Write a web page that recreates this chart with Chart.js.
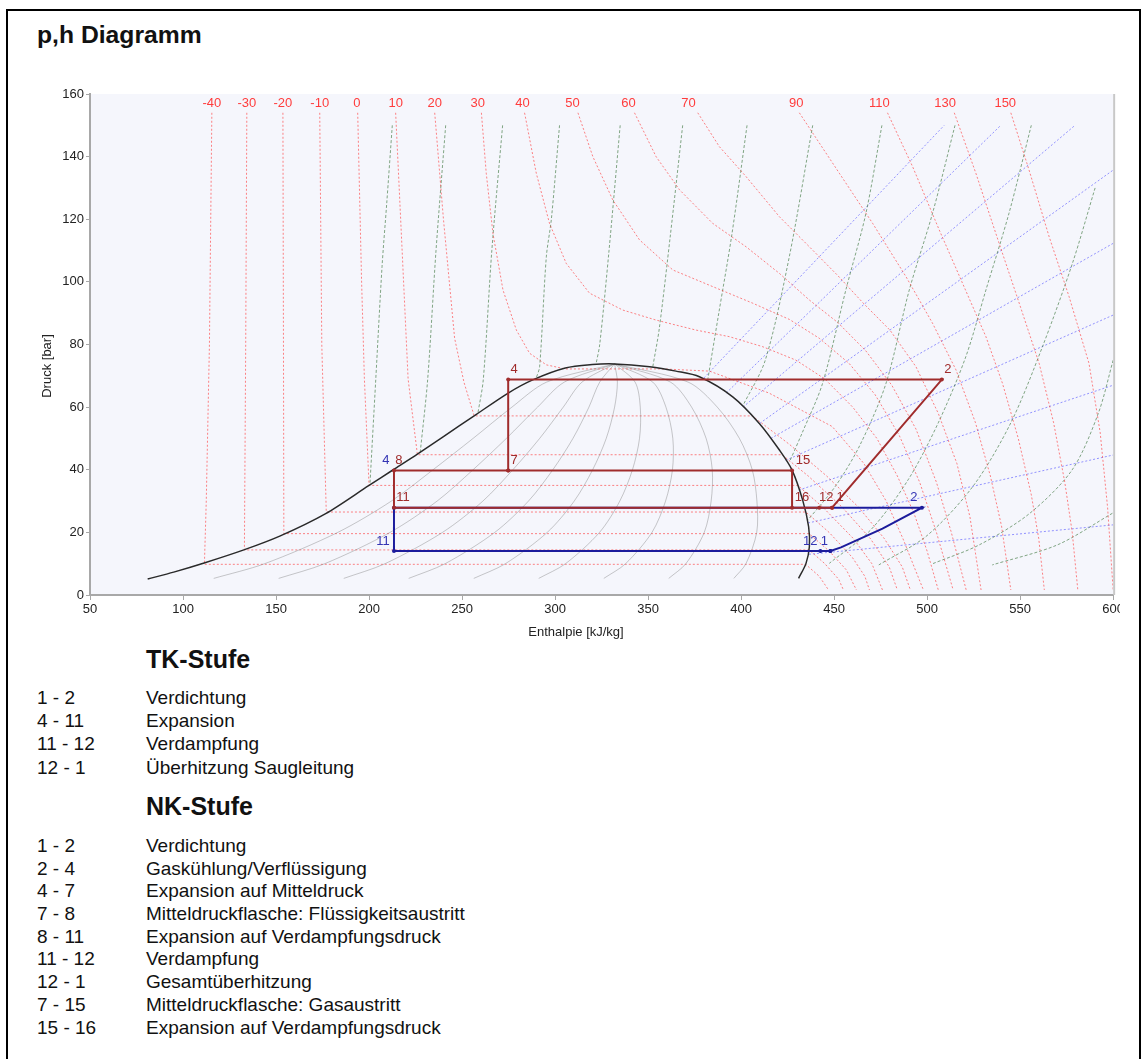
<!DOCTYPE html>
<html>
<head>
<meta charset="utf-8">
<title>p,h Diagramm</title>
<script src="https://cdn.jsdelivr.net/npm/chart.js@4.4.1/dist/chart.umd.min.js"></script>
<style>
  body { margin: 0; background: #fff; font-family: "Liberation Sans", Arial, sans-serif; color: #111; }
  #frame { position: absolute; left: 6px; top: 9px; width: 1135px; height: 1060px; border: 2px solid #000; border-bottom: none; box-sizing: border-box; }
  #title { position: absolute; left: 37px; top: 21px; font-size: 24.7px; line-height: 28px; font-weight: bold; }
  #chartBox { position: absolute; left: 30px; top: 84px; width: 1090px; height: 556px; overflow: hidden; }
  .head { position: absolute; left: 146px; font-size: 25px; line-height: 30px; font-weight: bold; }
  .rows { position: absolute; left: 37px; font-size: 19px; }
  .rows div { position: relative; white-space: nowrap; }
  .rows span.txt { position: absolute; left: 109px; }
</style>
</head>
<body>
<div id="frame"></div>
<div id="title">p,h Diagramm</div>
<div id="chartBox"><canvas id="ph" width="1096" height="556" style="width:1096px;height:556px"></canvas></div>

<div class="head" style="top:644px">TK-Stufe</div>
<div class="rows" id="tkRows" style="top:686px;line-height:23.2px"></div>
<div class="head" style="top:791px">NK-Stufe</div>
<div class="rows" id="nkRows" style="top:835px;line-height:22.7px"></div>

<script>
// ---- axis ranges ----
const hMin = 50, hMax = 600, hStep = 50;
const pMin = 0, pMax = 160, pStep = 20;

// ---- saturation dome (h kJ/kg, p bar) ----
const domeH = [81, 95, 111.8, 132.7, 152, 176.7, 200, 213, 226, 240, 256.5, 274.8, 288, 305.5, 320, 332, 350.8, 365, 377.6, 395.5, 409.8, 420.6, 427.4, 433.1, 436.3, 436.7, 434.9, 430.9];
const domeP = [5.1, 7.3, 10.3, 14.4, 18.8, 26, 35, 40, 45, 50.6, 57.2, 64.5, 68.7, 72.5, 73.6, 73.8, 72.9, 71.5, 69.7, 63.3, 54.8, 46.3, 39.9, 30.3, 21.8, 15.4, 10.1, 5.3];

// ---- vapour quality lines x = 0.1 ... 0.9 ----
const qualityP = [5.3, 10, 20, 30, 40, 50, 60, 68, 73.8];
const qualityH = [
  [116.5, 143.9, 183.2, 212, 234.4, 255.9, 276.8, 295.5, 332],
  [151.4, 176.2, 211.3, 236.6, 255.9, 273.8, 290.6, 305, 332],
  [186.4, 208.6, 239.5, 261.2, 277.3, 291.7, 304.4, 314.5, 332],
  [221.3, 240.9, 267.6, 285.7, 298.8, 309.6, 318.2, 324, 332],
  [256.3, 273.3, 295.8, 310.3, 320.2, 327.5, 332, 333.5, 332],
  [291.2, 305.6, 323.9, 334.8, 341.6, 345.4, 345.8, 343, 332],
  [326.2, 337.9, 352.1, 359.4, 363.1, 363.3, 359.6, 352.5, 332],
  [361.1, 370.3, 380.2, 383.9, 384.5, 381.2, 373.4, 362, 332],
  [396.1, 402.6, 408.4, 408.5, 406, 399.1, 387.2, 371.5, 332]
];

// ---- isotherms (°C) ----
const isoTemps = ['-40', '-30', '-20', '-10', '0', '10', '20', '30', '40', '50', '60', '70', '90', '110', '130', '150'];
const isoLabelH = [115.5, 134.3, 153.7, 173.5, 193.4, 214.3, 235.3, 258.4, 282.5, 309.4, 339.5, 371.7, 429.7, 474.3, 509.7, 542];
const isoLabelP = 157.1;
const isothermH = [
  [115.5, 114.2, 112.5, 111.5, 434.7, 442, 447],
  [134.3, 133.7, 133, 436.6, 445, 452.5, 455],
  [153.7, 154, 154.2, 436.5, 447.4, 456.6, 462],
  [173.5, 174.6, 177, 434.8, 447.3, 459.8, 466.5, 469],
  [193.9, 196, 197.5, 200, 430.5, 444, 460.4, 470.3, 476],
  [214.3, 217, 221, 226, 422, 436.1, 454.4, 469.5, 479.6, 484],
  [235.3, 240, 246, 251, 256.5, 406, 426.2, 446, 463.2, 477, 486.6, 491],
  [260.4, 263, 266.6, 272, 279.2, 286.3, 295.3, 305.5, 358, 383, 415, 449, 466, 478, 487, 493, 498],
  [283.6, 289.9, 297, 306, 318.5, 336.4, 354.3, 375.8, 393.7, 411.6, 429.5, 445, 460, 473, 484, 493, 500, 506],
  [312.3, 320.3, 331, 345.4, 363.3, 384.7, 406.2, 426, 442, 458, 472, 485, 496, 505, 514],
  [342.7, 354.3, 366.9, 384.7, 402.7, 420.6, 436.7, 452, 467, 481, 494, 505, 513, 521],
  [376.7, 388.3, 402.7, 420.6, 436.7, 452, 466, 480, 494, 506, 516, 523, 529],
  [431.3, 452.8, 470.7, 488.6, 502.9, 515.5, 526, 534, 540, 545],
  [478.7, 492.2, 506.5, 519, 531.6, 540.5, 549, 556, 560, 563],
  [514.6, 526.2, 538.7, 549.5, 560.2, 568, 574, 578, 581],
  [545, 554.8, 565.6, 576.3, 587, 593, 597, 600]
];
const isothermP = [
  [154, 80, 30, 9.8, 9.8, 6, 1.6],
  [154, 80, 14.4, 14.4, 10, 5, 1.6],
  [154, 80, 19.6, 19.6, 14, 8, 1.6],
  [154, 80, 26.5, 26.5, 20, 12, 6, 1.6],
  [154, 100, 69, 35, 35, 28, 18, 10, 1.6],
  [154, 120, 69, 44.8, 44.8, 38, 28, 18, 9, 1.6],
  [154, 120, 82, 68, 57.2, 57.2, 48, 38, 28, 18, 9, 1.6],
  [154, 134.7, 115.5, 97.4, 84.6, 77.2, 73.5, 72.2, 72.2, 71.5, 64.5, 53.8, 42, 30, 18, 9, 1.6],
  [154, 134.7, 118.7, 105.9, 96.4, 91, 87.8, 84.6, 82.5, 79.3, 75, 69, 60, 50, 38, 26, 14, 1.6],
  [154, 140, 126.2, 113.4, 103.8, 98.5, 93.2, 88, 82, 74, 64, 51, 36, 20, 1.6],
  [154, 140, 129.4, 118.7, 111.2, 102.7, 94.2, 87, 78, 67, 53, 36, 20, 1.6],
  [154, 143.2, 133.6, 120.8, 111.2, 102, 93, 84.6, 72.9, 58, 42, 25, 1.6],
  [154, 134.7, 118.7, 101.7, 86.8, 71.9, 55, 38, 22, 1.6],
  [154, 136.8, 116.6, 99.6, 82.5, 67.6, 50, 32, 18, 1.6],
  [154, 134.7, 112.3, 93.2, 74, 55, 36, 20, 1.6],
  [154, 135.7, 114.4, 95.3, 74, 52, 28, 1.6]
];

// ---- isentropes ----
const isentropeH = [
  [212.5, 209.5, 207, 203.6, 200.5],
  [241.2, 236, 231.5, 227.5],
  [271.8, 266, 261.4, 258.5],
  [302.4, 298, 295.3, 291.7, 290],
  [335, 329, 324, 322],
  [368.6, 362, 356, 352.5],
  [403.2, 395, 388, 382],
  [438.5, 425.9, 413, 401],
  [475.7, 467.1, 456.3, 443.8, 433, 426],
  [515, 502.9, 490.4, 477.9, 464, 451, 436],
  [556, 544, 531.6, 520.8, 506, 490, 470, 447.4],
  [590.3, 578.1, 562, 545, 525, 500, 474],
  [600, 592, 578, 555, 528, 503],
  [599.6, 570, 535]
];
const isentropeP = [
  [150, 125, 105, 68.7, 35.5],
  [150, 110, 68.7, 45.5],
  [150, 110, 68.7, 58],
  [150, 120, 108, 72.9, 69.5],
  [150, 110, 80, 73.7],
  [150, 115, 85, 72.8],
  [150, 115, 90, 68.5],
  [150, 108, 75, 60.5],
  [150, 121.9, 97.4, 67.6, 52, 42.5],
  [150, 121.9, 97.4, 67.6, 48, 35, 24],
  [150, 121.9, 97.4, 76.1, 55, 37, 21, 10.1],
  [130, 105.9, 79.3, 55, 35, 19, 9.6],
  [75, 58, 40, 26, 16, 10],
  [26.1, 16, 9.6]
];

// ---- isochores ----
const isochoreH = [[380, 509.2], [392, 539.6], [401, 579.5], [410, 600], [416, 600], [424, 600], [431, 600], [436, 600], [436.5, 600]];
const isochoreP = [[69.3, 150], [64.5, 150], [60, 150], [54.8, 135.7], [50, 112.3], [43, 89.4], [33.5, 67], [23, 44.7], [13, 22.4]];

// ---- NK-Stufe cycle: 1-2-4-7-8-11-12-1 and 7-15-16 ----
const nkH = [448.9, 507.9, 274.8, 274.8, 213.4, 213.4, 442, 448.9];
const nkP = [27.9, 68.8, 68.8, 39.8, 39.8, 27.9, 27.9, 27.9];
const nkGasH = [274.8, 427.4, 427.4];
const nkGasP = [39.8, 39.8, 27.9];

// ---- TK-Stufe cycle: 1-2-4-11-12-1 ----
const tkH = [448, 453.7, 476, 497.2, 213.4, 213.4, 442.6, 448];
const tkP = [14.05, 15.2, 21.2, 27.9, 27.9, 14.05, 14.05, 14.05];
const tkMarker = [2, 0, 0, 2, 2, 2, 2, 2];

// ---- state point labels ----
const ptText = ['4', '2', '7', '8', '4', '15', '11', '16', '12', '1', '2', '11', '12', '1'];
const ptH = [274.8, 507.9, 274.8, 213.4, 213.4, 427.4, 213.4, 427.4, 442, 448.9, 497.2, 213.4, 442.6, 448];
const ptP = [68.8, 68.8, 39.8, 39.8, 39.8, 39.8, 27.9, 27.9, 27.9, 27.9, 27.9, 14.05, 14.05, 14.05];
const ptStage = ['nk', 'nk', 'nk', 'nk', 'tk', 'nk', 'nk', 'nk', 'nk', 'nk', 'tk', 'tk', 'tk', 'tk'];
const ptDx = [6, 6, 6, 5, -8, 11, 9, 10, 7, 8, -8, -11, -10, -6];

// ---- legend text ----
const tkSteps = ['1 - 2', '4 - 11', '11 - 12', '12 - 1'];
const tkNames = ['Verdichtung', 'Expansion', 'Verdampfung', 'Überhitzung Saugleitung'];
const nkSteps = ['1 - 2', '2 - 4', '4 - 7', '7 - 8', '8 - 11', '11 - 12', '12 - 1', '7 - 15', '15 - 16'];
const nkNames = ['Verdichtung', 'Gaskühlung/Verflüssigung', 'Expansion auf Mitteldruck', 'Mitteldruckflasche: Flüssigkeitsaustritt',
  'Expansion auf Verdampfungsdruck', 'Verdampfung', 'Gesamtüberhitzung', 'Mitteldruckflasche: Gasaustritt', 'Expansion auf Verdampfungsdruck'];

const FONT = '"Liberation Sans", Arial, sans-serif';
const NK_COLOR = '#a02c2c';
const TK_COLOR = '#1c1c9c';

function fillRows(id, steps, names) {
  const box = document.getElementById(id);
  steps.forEach((s, i) => {
    const row = document.createElement('div');
    row.innerHTML = '<span></span><span class="txt"></span>';
    row.children[0].textContent = s;
    row.children[1].textContent = names[i];
    row.style.height = box.style.lineHeight;
    box.appendChild(row);
  });
}
fillRows('tkRows', tkSteps, tkNames);
fillRows('nkRows', nkSteps, nkNames);

// build a line dataset from two arrays
function curve(hs, ps, style) {
  return Object.assign({
    data: hs.map((h, i) => ({ x: h, y: ps[i] })),
    showLine: true,
    fill: false,
    pointRadius: 0,
    pointHoverRadius: 0,
    borderWidth: 1,
    tension: 0
  }, style);
}

const datasets = [];
datasets.push(curve(nkH, nkP, { borderColor: NK_COLOR, borderWidth: 2, pointRadius: 2, pointBackgroundColor: NK_COLOR, pointBorderWidth: 0, order: 0 }));
datasets.push(curve(nkGasH, nkGasP, { borderColor: NK_COLOR, borderWidth: 2, pointRadius: 2, pointBackgroundColor: NK_COLOR, pointBorderWidth: 0, order: 0 }));
datasets.push(curve(tkH, tkP, { borderColor: TK_COLOR, borderWidth: 2, pointRadius: tkMarker, pointBackgroundColor: TK_COLOR, pointBorderWidth: 0, order: 1 }));
datasets.push(curve(domeH, domeP, { borderColor: '#2a2a2a', borderWidth: 1.5, tension: 0.3, order: 2 }));
qualityH.forEach(hs => datasets.push(curve(hs, qualityP, { borderColor: 'rgba(120,120,120,0.5)', borderWidth: 0.8, tension: 0.3, order: 3 })));
isothermH.forEach((hs, i) => datasets.push(curve(hs, isothermP[i], { borderColor: 'rgba(255,50,50,0.6)', borderDash: [2, 2], order: 4 })));
isentropeH.forEach((hs, i) => datasets.push(curve(hs, isentropeP[i], { borderColor: 'rgba(50,110,50,0.6)', borderDash: [3, 2], tension: 0.3, order: 5 })));
isochoreH.forEach((hs, i) => datasets.push(curve(hs, isochoreP[i], { borderColor: 'rgba(80,80,255,0.6)', borderDash: [2, 2], order: 6 })));

const overlay = {
  id: 'overlay',
  beforeDraw(chart) {
    const { ctx, chartArea: a } = chart;
    ctx.save();
    ctx.fillStyle = '#f5f6fc';
    ctx.fillRect(a.left, a.top, a.right - a.left, a.bottom - a.top);
    ctx.restore();
  },
  afterDraw(chart) {
    const { ctx, chartArea: a } = chart;
    const xs = chart.scales.x, ys = chart.scales.y;
    ctx.save();
    // right frame of plot area
    ctx.strokeStyle = '#c8c8c8';
    ctx.lineWidth = 2;
    ctx.beginPath();
    ctx.moveTo(a.right + 1, a.top);
    ctx.lineTo(a.right + 1, a.bottom);
    ctx.stroke();

    ctx.font = '13px ' + FONT;
    ctx.textAlign = 'center';
    ctx.textBaseline = 'middle';

    // isotherm labels
    ctx.fillStyle = '#ff3c3c';
    isoTemps.forEach((t, i) => ctx.fillText(t, xs.getPixelForValue(isoLabelH[i]), ys.getPixelForValue(isoLabelP)));

    // state point labels
    ptText.forEach((t, i) => {
      ctx.fillStyle = ptStage[i] === 'nk' ? NK_COLOR : '#3434b4';
      ctx.fillText(t, xs.getPixelForValue(ptH[i]) + ptDx[i], ys.getPixelForValue(ptP[i]) - 10);
    });

    // axis titles, centred on the canvas
    ctx.fillStyle = '#222';
    ctx.fillText('Enthalpie [kJ/kg]', chart.width / 2 - 2, chart.height - 8);
    ctx.translate(17, chart.height / 2 + 4);
    ctx.rotate(-Math.PI / 2);
    ctx.fillText('Druck [bar]', 0, 0);
    ctx.restore();
  }
};

const axisColor = '#a8a8a8';
new Chart(document.getElementById('ph').getContext('2d'), {
  type: 'scatter',
  data: { datasets },
  options: {
    responsive: false,
    animation: false,
    events: [],
    layout: { padding: { left: 0, right: 12, top: 10, bottom: 0 } },
    plugins: { legend: { display: false }, tooltip: { enabled: false } },
    scales: {
      x: {
        type: 'linear', min: hMin, max: hMax,
        ticks: { stepSize: hStep, color: '#222', font: { size: 13, family: FONT }, padding: 2, maxRotation: 0, autoSkip: false },
        grid: { drawOnChartArea: false, drawTicks: true, tickLength: 5, color: axisColor },
        border: { display: true, color: axisColor, width: 2 },
        afterFit: s => { s.height = 45; }
      },
      y: {
        type: 'linear', min: pMin, max: pMax,
        ticks: { stepSize: pStep, color: '#222', font: { size: 13, family: FONT }, padding: 2 },
        grid: { drawOnChartArea: false, drawTicks: true, tickLength: 4, color: axisColor },
        border: { display: true, color: axisColor, width: 2 },
        afterFit: s => { s.width = 60; }
      }
    }
  },
  plugins: [overlay]
});
</script>
</body>
</html>
